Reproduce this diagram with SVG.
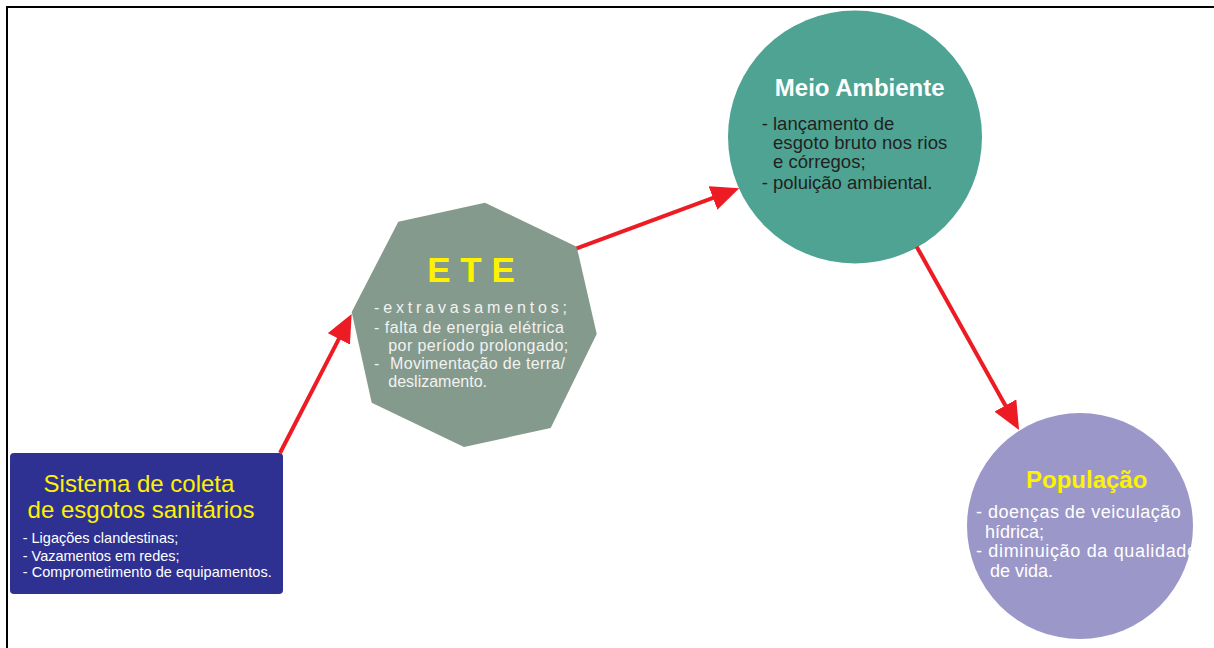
<svg xmlns="http://www.w3.org/2000/svg" width="1214" height="648" viewBox="0 0 1214 648">
<style>
text{font-family:"Liberation Sans",Arial,sans-serif}
.t24{font-size:24px}
.b{font-weight:bold}
.sm{font-size:14.5px;fill:#ffffff}
.ete{font-size:16px;fill:#f2f2f2}
.meio{font-size:18.5px;fill:#231f20}
.pop{font-size:18px;fill:#ffffff}
.conn{stroke:#ed1c24;stroke-width:4;fill:none;marker-end:url(#ah)}
</style>
<defs>
<marker id="ah" viewBox="0 0 28 25" refX="8" refY="12.5" markerWidth="28" markerHeight="25" markerUnits="userSpaceOnUse" orient="auto">
<path d="M0,0 L28,12.5 L0,25 Z" fill="#ed1c24"/>
</marker>
</defs>
<rect x="0" y="0" width="1214" height="648" fill="#ffffff"/>
<path d="M7,648 V7 H1214" fill="none" stroke="#000000" stroke-width="2"/>
<g id="node-sistema">
<rect x="10" y="453" width="273" height="141" rx="4" fill="#2e3192"/>
<text class="t24" x="139" y="491.7" text-anchor="middle" fill="#fff200">Sistema de coleta</text>
<text class="t24" x="141" y="517.7" text-anchor="middle" fill="#fff200">de esgotos sanitários</text>
<text class="sm" x="22.7" y="543.3">- Ligações clandestinas;</text>
<text class="sm" x="22.7" y="560.5">- Vazamentos em redes;</text>
<text class="sm" x="22.7" y="576.7" textLength="249">- Comprometimento de equipamentos.</text>
</g>
<g id="node-ete">
<polygon points="485,202.7 576.7,246.7 596.7,334 550.7,428 464,447 371.7,402.7 351.7,312 398.3,221.7" fill="#849a8c"/>
<text x="471" y="281.7" text-anchor="middle" font-size="35" font-weight="bold" fill="#fff200">E T E</text>
<text class="ete" x="374" y="313.3" textLength="193" lengthAdjust="spacing">-extravasamentos;</text>
<text class="ete" x="374" y="332.7" textLength="190" lengthAdjust="spacing">- falta de energia elétrica</text>
<text class="ete" x="388.3" y="350.7" textLength="180" lengthAdjust="spacing">por período prolongado;</text>
<text class="ete" y="369.3"><tspan x="374">-</tspan><tspan x="390" textLength="175" lengthAdjust="spacing">Movimentação de terra/</tspan></text>
<text class="ete" x="388.3" y="387.3">deslizamento.</text>
</g>
<g id="node-meio">
<ellipse cx="855" cy="137" rx="127" ry="126.5" fill="#4ea393"/>
<text class="t24 b" x="859.7" y="96" text-anchor="middle" fill="#ffffff">Meio Ambiente</text>
<text class="meio" x="761.7" y="130">- lançamento de</text>
<text class="meio" x="773" y="149.3" textLength="174.3" lengthAdjust="spacing">esgoto bruto nos rios</text>
<text class="meio" x="773" y="168.3">e córregos;</text>
<text class="meio" x="761.7" y="189.3">- poluição ambiental.</text>
</g>
<g id="node-populacao">
<circle cx="1080" cy="526" r="113" fill="#9b97c8"/>
<text class="t24 b" x="1086.7" y="488.3" text-anchor="middle" fill="#fff200">População</text>
<text class="pop" x="976" y="518.3" textLength="204.7" lengthAdjust="spacing">- doenças de veiculação</text>
<text class="pop" x="985" y="538.3">hídrica;</text>
<text class="pop" x="976" y="557" textLength="221" lengthAdjust="spacing">- diminuição da qualidade</text>
<text class="pop" x="990" y="576.7">de vida.</text>
</g>
<g id="connectors">
<line class="conn" x1="280" y1="453" x2="342.5" y2="331.8"/>
<line class="conn" x1="576.7" y1="248.3" x2="720.5" y2="195.2"/>
<line class="conn" x1="916.7" y1="246.7" x2="1009.3" y2="412.5"/>
</g>
</svg>
